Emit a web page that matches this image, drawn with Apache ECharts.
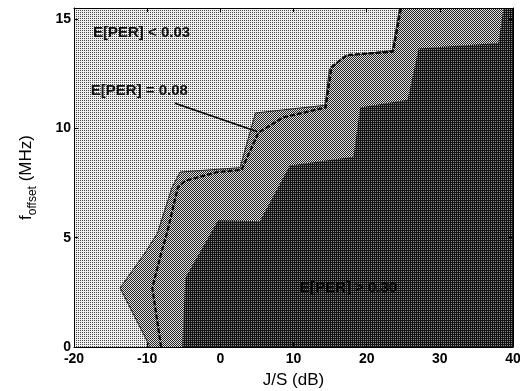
<!DOCTYPE html>
<html>
<head>
<meta charset="utf-8">
<script src="https://cdn.jsdelivr.net/npm/echarts@6/dist/echarts.min.js"></script>
<style>html,body{margin:0;background:#fff}#chart{width:520px;height:391px}</style>
</head>
<body>
<div id="chart"></div>
<script>
const xTicks = [-20, -10, 0, 10, 20, 30, 40];
const yTicks = [0, 5, 10, 15];
const xRange = [-20, 40];
const yRange = [0, 15.5];

// J/S (dB), f_offset (MHz) along each contour, bottom to top
const edge003 = [[-9.6, 0], [-13.7, 2.7], [-10.3, 4.3], [-8.6, 5.2], [-6.6, 7.3], [-5.5, 8.0],
  [2.7, 8.2], [4.8, 10.7], [14.3, 11.05], [14.9, 12.7], [17.1, 13.3], [23.5, 13.56], [24.5, 15.5]];
const edge008 = [[-8.1, 0], [-9.3, 2.7], [-8.0, 4.4], [-7.3, 5.2], [-5.8, 7.3], [-4.8, 7.6],
  [-0.4, 8.0], [2.9, 8.1], [5.2, 9.8], [8.6, 10.5], [14.4, 10.95], [15.2, 12.8], [17.3, 13.35],
  [23.6, 13.5], [24.7, 15.5]];
const edgeDark = [[-5.2, 0], [-4.8, 3.15], [-0.3, 5.8], [5.4, 5.75], [9.5, 8.3], [18.2, 8.7],
  [19.1, 10.95], [25.6, 11.3], [27.1, 13.65], [38.0, 13.9], [38.7, 15.5]];

const noteX = [-17.4, -17.7, 10.9];
const noteY = [14.35, 11.7, 2.7];
const noteText = ['E[PER] < 0.03', 'E[PER] = 0.08', 'E[PER] > 0.30'];
const leader = [[-6.2, 11.15], [5.0, 9.85]];

// halftone-like fills
function pattern(bg, fg, dots) {
  const c = document.createElement('canvas');
  c.width = 2; c.height = 2;
  const g = c.getContext('2d');
  g.fillStyle = bg; g.fillRect(0, 0, 2, 2);
  g.fillStyle = fg;
  dots.forEach(([x, y]) => g.fillRect(x, y, 1, 1));
  return { image: c, repeat: 'repeat' };
}
const lightFill = pattern('#eeeeee', '#4a4a4a', [[0, 0]]);
const midFill = pattern('#e2e2e2', '#222', [[0, 0], [1, 1]]);
const darkFill = pattern('#8a8a8a', '#141414', [[0, 0], [1, 0], [0, 1]]);

const corner = [[xRange[1], yRange[1]], [xRange[1], yRange[0]]];
const fullBox = [[xRange[0], yRange[0]], [xRange[0], yRange[1]], [xRange[1], yRange[1]], [xRange[1], yRange[0]]];

function region(points, fill) {
  return {
    type: 'custom',
    clip: true,
    silent: true,
    data: [[xRange[0], yRange[0]]],
    renderItem: (params, api) => ({
      type: 'polygon',
      shape: { points: points.map((p) => api.coord(p)) },
      style: { fill },
    }),
  };
}

const font = '"Liberation Sans", Arial, Helvetica, sans-serif';
const chart = echarts.init(document.getElementById('chart'));

const tickFmt = (list) => (v) => (list.includes(v) ? String(v) : '');
const frameAxis = {
  z: 10,
  axisLine: { onZero: false, lineStyle: { color: '#000', width: 1 } },
  axisTick: { inside: true, length: 4, lineStyle: { color: '#000' } },
  splitLine: { show: false },
};

chart.setOption({
  animation: false,
  grid: { left: 74, right: 7, top: 8, bottom: 44, containLabel: false, outerBoundsMode: 'none' },
  xAxis: [{
    ...frameAxis,
    type: 'value', min: xRange[0], max: xRange[1], interval: 10,
    name: 'J/S (dB)', nameLocation: 'middle', nameGap: 25,
    nameTextStyle: { fontFamily: font, fontSize: 17, color: '#000' },
    axisLabel: { formatter: tickFmt(xTicks), fontFamily: font, fontSize: 14, fontWeight: 'bold', color: '#000', margin: 5 },
  }, {
    ...frameAxis,
    type: 'value', position: 'top', min: xRange[0], max: xRange[1], interval: 10,
    axisLabel: { show: false },
  }],
  yAxis: [{
    ...frameAxis,
    type: 'value', min: yRange[0], max: yRange[1], interval: 5,
    name: '{a|f}{s|offset}{a| (MHz)}', nameLocation: 'middle', nameGap: 36, nameRotate: 90,
    nameTextStyle: {
      color: '#000',
      rich: {
        a: { fontFamily: font, fontSize: 17, lineHeight: 20, verticalAlign: 'top', color: '#000' },
        s: { fontFamily: font, fontSize: 12, lineHeight: 14, padding: [9, 0, 0, 0], verticalAlign: 'top', color: '#000' },
      },
    },
    axisLabel: { formatter: tickFmt(yTicks), fontFamily: font, fontSize: 14, fontWeight: 'bold', color: '#000', margin: 3 },
  }, {
    ...frameAxis,
    type: 'value', position: 'right', min: yRange[0], max: yRange[1], interval: 5,
    axisLabel: { show: false },
  }],
  series: [
    region(fullBox, lightFill),
    region(edge003.concat(corner), midFill),
    region(edgeDark.concat(corner), darkFill),
    {
      type: 'line', data: edge003, symbol: 'none', silent: true,
      lineStyle: { color: '#222', width: 1 },
    },
    {
      type: 'line', data: edge008, symbol: 'none', silent: true,
      lineStyle: { color: '#0a0a0a', width: 2.2, type: [5, 2] },
    },
    {
      type: 'line', data: leader, symbol: 'none', silent: true,
      lineStyle: { color: '#000', width: 1.6 },
    },
    {
      type: 'custom', silent: true, z: 5,
      data: noteX.map((x, i) => [x, noteY[i]]),
      renderItem: (params, api) => {
        const p = api.coord([api.value(0), api.value(1)]);
        return {
          type: 'text', x: p[0], y: p[1],
          style: {
            text: noteText[params.dataIndex],
            fill: params.dataIndex === 2 ? '#050505' : '#111',
            font: 'bold 15px ' + font,
            align: 'left', verticalAlign: 'middle',
          },
        };
      },
    },
  ],
});
</script>
</body>
</html>
